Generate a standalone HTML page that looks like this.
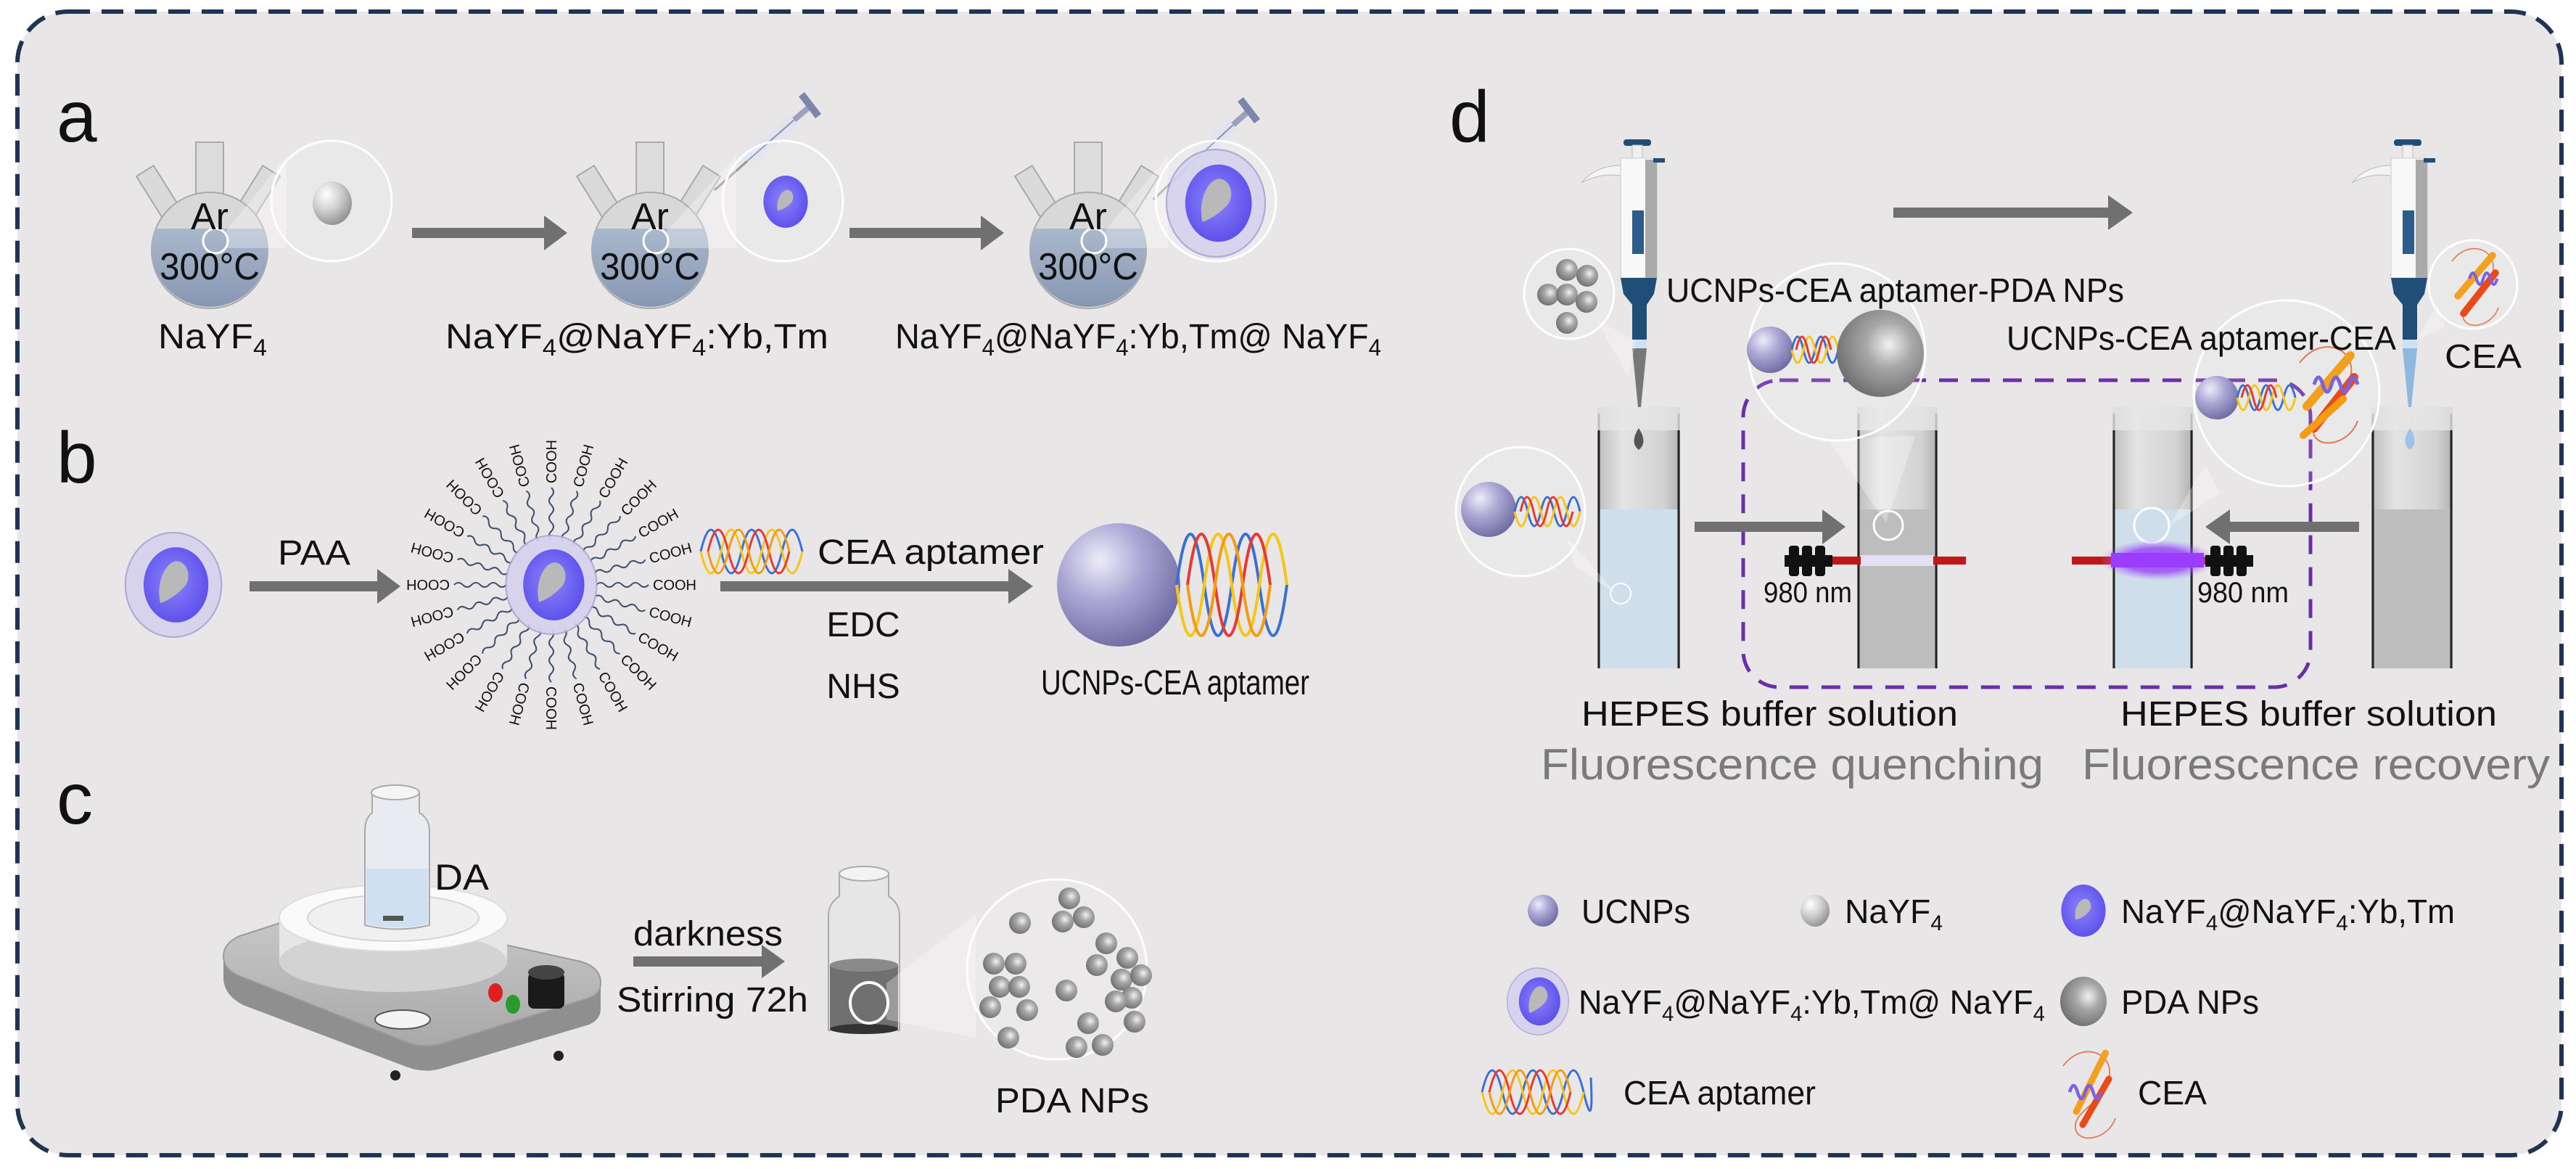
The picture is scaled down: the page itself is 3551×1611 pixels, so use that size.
<!DOCTYPE html>
<html><head><meta charset="utf-8"><style>
html,body{margin:0;padding:0;background:#fff;}
svg{display:block;}
text{font-family:"Liberation Sans",Arial,sans-serif;fill:#111;}
</style></head><body>
<svg width="3551" height="1611" viewBox="0 0 3551 1611" xmlns="http://www.w3.org/2000/svg">
<defs>
<radialGradient id="gPur" cx="35%" cy="30%" r="75%"><stop offset="0" stop-color="#eeecfa"/><stop offset="0.45" stop-color="#aaa6d4"/><stop offset="1" stop-color="#6e6aa0"/></radialGradient>
<radialGradient id="gGry" cx="35%" cy="30%" r="75%"><stop offset="0" stop-color="#ffffff"/><stop offset="0.5" stop-color="#cfcfcf"/><stop offset="1" stop-color="#8e8e8e"/></radialGradient>
<radialGradient id="gPda" cx="60%" cy="40%" r="75%"><stop offset="0" stop-color="#f2f2f2"/><stop offset="0.35" stop-color="#a8a8a8"/><stop offset="1" stop-color="#5e5e5e"/></radialGradient>
<radialGradient id="gBlue" cx="45%" cy="45%" r="60%"><stop offset="0" stop-color="#8c84ff"/><stop offset="1" stop-color="#5a4ee8"/></radialGradient>
<linearGradient id="gLiq" x1="0" y1="0" x2="0" y2="1"><stop offset="0" stop-color="#aab8cc"/><stop offset="1" stop-color="#8797b3"/></linearGradient>
<linearGradient id="gCuv" x1="0" y1="0" x2="1" y2="0"><stop offset="0" stop-color="#bdbdbd"/><stop offset="0.3" stop-color="#e4e4e4"/><stop offset="0.8" stop-color="#d2d2d2"/><stop offset="1" stop-color="#b0b0b0"/></linearGradient>
<linearGradient id="gPlate" x1="0" y1="0" x2="0" y2="1"><stop offset="0" stop-color="#c9c9c9"/><stop offset="1" stop-color="#a9a9a9"/></linearGradient>
<radialGradient id="gGlow" cx="50%" cy="50%" r="50%"><stop offset="0" stop-color="#a64dff"/><stop offset="0.6" stop-color="#9a44f5" stop-opacity="0.8"/><stop offset="1" stop-color="#b070ff" stop-opacity="0"/></radialGradient>
<g id="cs">
  <ellipse cx="0" cy="0" rx="0.92" ry="1" fill="#d6d2ee" stroke="#aaa4d6" stroke-width="0.03" opacity="0.9"/>
  <ellipse cx="0.05" cy="0" rx="0.62" ry="0.72" fill="url(#gBlue)"/>
  <path d="M -0.25 0.35 C -0.35 -0.1 -0.1 -0.5 0.1 -0.45 C 0.3 -0.4 0.35 -0.1 0.2 0.05 C 0.05 0.2 -0.1 0.3 -0.25 0.35 Z" fill="#b9b9b9"/>
</g>
<g id="csb">
  <ellipse cx="0" cy="0" rx="0.85" ry="1" fill="url(#gBlue)"/>
  <path d="M -0.3 0.35 C -0.4 -0.1 -0.1 -0.5 0.1 -0.45 C 0.3 -0.4 0.35 -0.1 0.2 0.05 C 0.05 0.2 -0.1 0.3 -0.3 0.35 Z" fill="#b9b9b9"/>
</g>
</defs>

<rect x="24" y="16" width="3507" height="1576" rx="70" ry="70" fill="#e8e6e6" stroke="#1f3352" stroke-width="6" stroke-dasharray="30 16"/>

<!-- ===== Panel a ===== -->
<text x="78" y="195" font-size="100">a</text>

<g>
 <rect x="223" y="225" width="28" height="70" fill="#dadada" stroke="#a9a9a9" stroke-width="2" transform="rotate(-32 237 295)"/>
 <rect x="323" y="225" width="28" height="70" fill="#dadada" stroke="#a9a9a9" stroke-width="2" transform="rotate(32 337 295)"/>
 <rect x="270" y="196" width="38" height="95" fill="#dcdcdc" stroke="#a9a9a9" stroke-width="2"/>
 <circle cx="289" cy="345" r="80" fill="#d8d8d8" stroke="#a9a9a9" stroke-width="2"/>
 <path d="M 214 315 A 80 80 0 1 0 364 315 Z" fill="url(#gLiq)"/>
 <circle cx="297" cy="332" r="17" fill="none" stroke="#fff" stroke-width="3"/>
 <text x="289" y="316" font-size="52" text-anchor="middle">Ar</text>
 <text x="289" y="385" font-size="52" text-anchor="middle" textLength="138" lengthAdjust="spacingAndGlyphs">300°C</text>
</g>
<g>
 <rect x="830" y="225" width="28" height="70" fill="#dadada" stroke="#a9a9a9" stroke-width="2" transform="rotate(-32 844 295)"/>
 <rect x="930" y="225" width="28" height="70" fill="#dadada" stroke="#a9a9a9" stroke-width="2" transform="rotate(32 944 295)"/>
 <rect x="877" y="196" width="38" height="95" fill="#dcdcdc" stroke="#a9a9a9" stroke-width="2"/>
 <circle cx="896" cy="345" r="80" fill="#d8d8d8" stroke="#a9a9a9" stroke-width="2"/>
 <path d="M 821 315 A 80 80 0 1 0 971 315 Z" fill="url(#gLiq)"/>
 <circle cx="904" cy="332" r="17" fill="none" stroke="#fff" stroke-width="3"/>
 <text x="896" y="316" font-size="52" text-anchor="middle">Ar</text>
 <text x="896" y="385" font-size="52" text-anchor="middle" textLength="138" lengthAdjust="spacingAndGlyphs">300°C</text>
</g>
<g>
 <rect x="1434" y="225" width="28" height="70" fill="#dadada" stroke="#a9a9a9" stroke-width="2" transform="rotate(-32 1448 295)"/>
 <rect x="1534" y="225" width="28" height="70" fill="#dadada" stroke="#a9a9a9" stroke-width="2" transform="rotate(32 1548 295)"/>
 <rect x="1481" y="196" width="38" height="95" fill="#dcdcdc" stroke="#a9a9a9" stroke-width="2"/>
 <circle cx="1500" cy="345" r="80" fill="#d8d8d8" stroke="#a9a9a9" stroke-width="2"/>
 <path d="M 1425 315 A 80 80 0 1 0 1575 315 Z" fill="url(#gLiq)"/>
 <circle cx="1508" cy="332" r="17" fill="none" stroke="#fff" stroke-width="3"/>
 <text x="1500" y="316" font-size="52" text-anchor="middle">Ar</text>
 <text x="1500" y="385" font-size="52" text-anchor="middle" textLength="138" lengthAdjust="spacingAndGlyphs">300°C</text>
</g>

<!-- syringes -->
<g>
 <line x1="985" y1="262" x2="1030" y2="222" stroke="#8a8a8a" stroke-width="3"/>
 <line x1="1030" y1="222" x2="1095" y2="165" stroke="#dfe4ee" stroke-width="18"/>
 <line x1="1030" y1="222" x2="1095" y2="165" stroke="#8a93b3" stroke-width="2"/>
 <line x1="1095" y1="165" x2="1115" y2="148" stroke="#9aa2c0" stroke-width="8"/>
 <line x1="1105" y1="130" x2="1128" y2="160" stroke="#7c86aa" stroke-width="10"/>
</g>
<g>
 <line x1="1590" y1="275" x2="1635" y2="232" stroke="#8a8a8a" stroke-width="3"/>
 <line x1="1635" y1="232" x2="1700" y2="172" stroke="#dfe4ee" stroke-width="18"/>
 <line x1="1635" y1="232" x2="1700" y2="172" stroke="#8a93b3" stroke-width="2"/>
 <line x1="1700" y1="172" x2="1720" y2="154" stroke="#9aa2c0" stroke-width="8"/>
 <line x1="1710" y1="137" x2="1733" y2="167" stroke="#7c86aa" stroke-width="10"/>
</g>

<polygon points="312,318 395,215 395,342 312,342" fill="#fff" opacity="0.3"/>
<circle cx="457" cy="277" r="83" fill="#fff" fill-opacity="0.12" stroke="#fff" stroke-width="3"/>
<ellipse cx="458" cy="280" rx="27" ry="30" fill="url(#gGry)"/>
<polygon points="919,318 1015,215 1015,342 919,342" fill="#fff" opacity="0.3"/>
<circle cx="1079" cy="277" r="83" fill="#fff" fill-opacity="0.12" stroke="#fff" stroke-width="3"/>
<use href="#csb" transform="translate(1083 278) scale(36)"/>
<polygon points="1523,318 1610,215 1610,342 1523,342" fill="#fff" opacity="0.3"/>
<circle cx="1676" cy="277" r="83" fill="#fff" fill-opacity="0.2" stroke="#fff" stroke-width="3"/>
<use href="#cs" transform="translate(1676 280) scale(74)"/>

<g fill="#707070">
 <rect x="568" y="314" width="185" height="14"/><polygon points="750,297 782,321 750,345"/>
 <rect x="1171" y="314" width="185" height="14"/><polygon points="1352,297 1384,321 1352,345"/>
</g>

<text x="218" y="480" font-size="48" textLength="150" lengthAdjust="spacingAndGlyphs">NaYF<tspan font-size="32" dy="10">4</tspan></text>
<text x="614" y="480" font-size="48" textLength="528" lengthAdjust="spacingAndGlyphs">NaYF<tspan font-size="32" dy="10">4</tspan><tspan dy="-10">@NaYF</tspan><tspan font-size="32" dy="10">4</tspan><tspan dy="-10">:Yb,Tm</tspan></text>
<text x="1234" y="480" font-size="48" textLength="670" lengthAdjust="spacingAndGlyphs">NaYF<tspan font-size="32" dy="10">4</tspan><tspan dy="-10">@NaYF</tspan><tspan font-size="32" dy="10">4</tspan><tspan dy="-10">:Yb,Tm@ NaYF</tspan><tspan font-size="32" dy="10">4</tspan></text>

<!-- ===== Panel b ===== -->
<text x="78" y="665" font-size="100">b</text>
<use href="#cs" transform="translate(239 806) scale(72)"/>
<text x="383" y="778" font-size="48" textLength="100" lengthAdjust="spacingAndGlyphs">PAA</text>
<g fill="#707070">
 <rect x="344" y="801" width="180" height="14"/><polygon points="520,784 552,808 520,832"/>
 <rect x="993" y="801" width="400" height="14"/><polygon points="1390,784 1424,808 1390,832"/>
</g>

<g font-family="Liberation Serif,serif" font-size="20" stroke="#3f4f70" stroke-width="2" fill="none">
 <g transform="rotate(0 760 806)"><path d="M 822 806 q 6 -6 12 0 t 12 0 t 12 0 t 12 0 t 12 0 t 12 0"/><text x="900" y="813" stroke="none" fill="#222">COOH</text></g>
 <g transform="rotate(15 760 806)"><path d="M 822 806 q 6 -6 12 0 t 12 0 t 12 0 t 12 0 t 12 0 t 12 0"/><text x="900" y="813" stroke="none" fill="#222">COOH</text></g>
 <g transform="rotate(30 760 806)"><path d="M 822 806 q 6 -6 12 0 t 12 0 t 12 0 t 12 0 t 12 0 t 12 0"/><text x="900" y="813" stroke="none" fill="#222">COOH</text></g>
 <g transform="rotate(45 760 806)"><path d="M 822 806 q 6 -6 12 0 t 12 0 t 12 0 t 12 0 t 12 0 t 12 0"/><text x="900" y="813" stroke="none" fill="#222">COOH</text></g>
 <g transform="rotate(60 760 806)"><path d="M 822 806 q 6 -6 12 0 t 12 0 t 12 0 t 12 0 t 12 0 t 12 0"/><text x="900" y="813" stroke="none" fill="#222">COOH</text></g>
 <g transform="rotate(75 760 806)"><path d="M 822 806 q 6 -6 12 0 t 12 0 t 12 0 t 12 0 t 12 0 t 12 0"/><text x="900" y="813" stroke="none" fill="#222">COOH</text></g>
 <g transform="rotate(90 760 806)"><path d="M 822 806 q 6 -6 12 0 t 12 0 t 12 0 t 12 0 t 12 0 t 12 0"/><text x="900" y="813" stroke="none" fill="#222">COOH</text></g>
 <g transform="rotate(105 760 806)"><path d="M 822 806 q 6 -6 12 0 t 12 0 t 12 0 t 12 0 t 12 0 t 12 0"/><text x="900" y="813" stroke="none" fill="#222">COOH</text></g>
 <g transform="rotate(120 760 806)"><path d="M 822 806 q 6 -6 12 0 t 12 0 t 12 0 t 12 0 t 12 0 t 12 0"/><text x="900" y="813" stroke="none" fill="#222">COOH</text></g>
 <g transform="rotate(135 760 806)"><path d="M 822 806 q 6 -6 12 0 t 12 0 t 12 0 t 12 0 t 12 0 t 12 0"/><text x="900" y="813" stroke="none" fill="#222">COOH</text></g>
 <g transform="rotate(150 760 806)"><path d="M 822 806 q 6 -6 12 0 t 12 0 t 12 0 t 12 0 t 12 0 t 12 0"/><text x="900" y="813" stroke="none" fill="#222">COOH</text></g>
 <g transform="rotate(165 760 806)"><path d="M 822 806 q 6 -6 12 0 t 12 0 t 12 0 t 12 0 t 12 0 t 12 0"/><text x="900" y="813" stroke="none" fill="#222">COOH</text></g>
 <g transform="rotate(180 760 806)"><path d="M 822 806 q 6 -6 12 0 t 12 0 t 12 0 t 12 0 t 12 0 t 12 0"/><text x="900" y="813" stroke="none" fill="#222">COOH</text></g>
 <g transform="rotate(195 760 806)"><path d="M 822 806 q 6 -6 12 0 t 12 0 t 12 0 t 12 0 t 12 0 t 12 0"/><text x="900" y="813" stroke="none" fill="#222">COOH</text></g>
 <g transform="rotate(210 760 806)"><path d="M 822 806 q 6 -6 12 0 t 12 0 t 12 0 t 12 0 t 12 0 t 12 0"/><text x="900" y="813" stroke="none" fill="#222">COOH</text></g>
 <g transform="rotate(225 760 806)"><path d="M 822 806 q 6 -6 12 0 t 12 0 t 12 0 t 12 0 t 12 0 t 12 0"/><text x="900" y="813" stroke="none" fill="#222">COOH</text></g>
 <g transform="rotate(240 760 806)"><path d="M 822 806 q 6 -6 12 0 t 12 0 t 12 0 t 12 0 t 12 0 t 12 0"/><text x="900" y="813" stroke="none" fill="#222">COOH</text></g>
 <g transform="rotate(255 760 806)"><path d="M 822 806 q 6 -6 12 0 t 12 0 t 12 0 t 12 0 t 12 0 t 12 0"/><text x="900" y="813" stroke="none" fill="#222">COOH</text></g>
 <g transform="rotate(270 760 806)"><path d="M 822 806 q 6 -6 12 0 t 12 0 t 12 0 t 12 0 t 12 0 t 12 0"/><text x="900" y="813" stroke="none" fill="#222">COOH</text></g>
 <g transform="rotate(285 760 806)"><path d="M 822 806 q 6 -6 12 0 t 12 0 t 12 0 t 12 0 t 12 0 t 12 0"/><text x="900" y="813" stroke="none" fill="#222">COOH</text></g>
 <g transform="rotate(300 760 806)"><path d="M 822 806 q 6 -6 12 0 t 12 0 t 12 0 t 12 0 t 12 0 t 12 0"/><text x="900" y="813" stroke="none" fill="#222">COOH</text></g>
 <g transform="rotate(315 760 806)"><path d="M 822 806 q 6 -6 12 0 t 12 0 t 12 0 t 12 0 t 12 0 t 12 0"/><text x="900" y="813" stroke="none" fill="#222">COOH</text></g>
 <g transform="rotate(330 760 806)"><path d="M 822 806 q 6 -6 12 0 t 12 0 t 12 0 t 12 0 t 12 0 t 12 0"/><text x="900" y="813" stroke="none" fill="#222">COOH</text></g>
 <g transform="rotate(345 760 806)"><path d="M 822 806 q 6 -6 12 0 t 12 0 t 12 0 t 12 0 t 12 0 t 12 0"/><text x="900" y="813" stroke="none" fill="#222">COOH</text></g>
</g>
<use href="#cs" transform="translate(760 806) scale(68)"/>

<g fill="none" stroke-width="3">
 <path d="M 966 760 q 14 -60 28 0 t 28 0 t 28 0 t 28 0 t 28 0" stroke="#3b6fd1"/>
 <path d="M 966 760 q 14 60 28 0 t 28 0 t 28 0 t 28 0 t 28 0" stroke="#f5c518"/>
 <path d="M 976 760 q 14 -60 28 0 t 28 0 t 28 0 t 28 0" stroke="#e53935"/>
 <path d="M 976 760 q 14 60 28 0 t 28 0 t 28 0 t 28 0" stroke="#f39c12"/>
</g>
<text x="1127" y="777" font-size="48" textLength="312" lengthAdjust="spacingAndGlyphs">CEA aptamer</text>
<text x="1190" y="877" font-size="48" text-anchor="middle">EDC</text>
<text x="1190" y="962" font-size="48" text-anchor="middle">NHS</text>

<circle cx="1542" cy="806" r="85" fill="url(#gPur)"/>
<g fill="none" stroke-width="4">
 <path d="M 1622 806 q 19 -140 38 0 t 38 0 t 38 0 t 38 0" stroke="#3b6fd1"/>
 <path d="M 1622 806 q 19 140 38 0 t 38 0 t 38 0 t 38 0" stroke="#f5c518"/>
 <path d="M 1637 806 q 19 -140 38 0 t 38 0 t 38 0" stroke="#e53935"/>
 <path d="M 1637 806 q 19 140 38 0 t 38 0 t 38 0" stroke="#f39c12"/>
</g>
<text x="1435" y="957" font-size="48" textLength="370" lengthAdjust="spacingAndGlyphs">UCNPs-CEA aptamer</text>

<!-- ===== Panel c ===== -->
<text x="78" y="1135" font-size="100">c</text>
<!-- hot plate -->
<path d="M 308 1318 L 308 1350 Q 310 1372 335 1385 L 560 1470 Q 585 1480 610 1472 L 812 1412 Q 828 1405 828 1390 L 828 1355 Z" fill="#8f8f8f"/>
<path d="M 308 1318 Q 308 1300 330 1290 L 430 1258 Q 455 1250 480 1254 L 800 1325 Q 828 1333 828 1355 Q 828 1370 810 1376 L 610 1438 Q 585 1445 560 1436 L 330 1345 Q 308 1336 308 1318 Z" fill="url(#gPlate)" stroke="#9a9a9a" stroke-width="2"/>
<circle cx="545" cy="1482" r="7" fill="#222"/><circle cx="770" cy="1455" r="7" fill="#222"/>
<rect x="385" y="1265" width="314" height="60" fill="#e6e6e6"/>
<ellipse cx="542" cy="1325" rx="157" ry="42" fill="#d3d3d3"/>
<ellipse cx="542" cy="1265" rx="157" ry="46" fill="#fafafa" stroke="#ddd" stroke-width="2"/>
<ellipse cx="542" cy="1265" rx="118" ry="32" fill="#f0f0f0" stroke="#d6d6d6" stroke-width="2"/>
<rect x="728" y="1340" width="50" height="50" rx="8" fill="#1a1a1a"/>
<ellipse cx="753" cy="1340" rx="25" ry="10" fill="#444"/>
<ellipse cx="683" cy="1368" rx="10" ry="13" fill="#e02020"/>
<ellipse cx="707" cy="1384" rx="10" ry="13" fill="#2a9a2a"/>
<ellipse cx="555" cy="1405" rx="38" ry="13" fill="#f4f4f4" stroke="#555" stroke-width="2"/>
<!-- DA vial -->
<path d="M 513 1092 L 578 1092 L 578 1120 Q 592 1128 592 1145 L 592 1275 Q 548 1286 503 1275 L 503 1145 Q 503 1128 513 1120 Z" fill="#e8ecf0" stroke="#aaa" stroke-width="2"/>
<path d="M 505 1197 L 590 1197 L 590 1273 Q 548 1283 505 1273 Z" fill="#cfe0f0"/>
<ellipse cx="545" cy="1092" rx="33" ry="10" fill="#f5f5f5" stroke="#aaa" stroke-width="2"/>
<rect x="528" y="1262" width="28" height="7" fill="#555"/>
<text x="599" y="1226" font-size="50" textLength="75" lengthAdjust="spacingAndGlyphs">DA</text>
<rect x="873" y="1318" width="180" height="14" fill="#707070"/><polygon points="1050,1302 1082,1325 1050,1348" fill="#707070"/>
<text x="873" y="1303" font-size="48" textLength="206" lengthAdjust="spacingAndGlyphs">darkness</text>
<text x="850" y="1394" font-size="48" textLength="264" lengthAdjust="spacingAndGlyphs">Stirring 72h</text>
<!-- small vial -->
<path d="M 1157 1204 L 1225 1204 L 1225 1235 Q 1240 1245 1240 1262 L 1240 1420 L 1142 1420 L 1142 1262 Q 1142 1245 1157 1235 Z" fill="#e6e6e6" stroke="#aaa" stroke-width="2"/>
<rect x="1144" y="1330" width="94" height="89" fill="#707070"/>
<ellipse cx="1191" cy="1330" rx="47" ry="9" fill="#8a8a8a"/>
<ellipse cx="1191" cy="1418" rx="47" ry="7" fill="#333"/>
<ellipse cx="1191" cy="1204" rx="34" ry="10" fill="#f3f3f3" stroke="#aaa" stroke-width="2"/>
<ellipse cx="1198" cy="1382" rx="26" ry="28" fill="none" stroke="#fff" stroke-width="4"/>
<polygon points="1222,1355 1345,1260 1345,1430 1222,1405" fill="#fff" opacity="0.3"/>
<circle cx="1457" cy="1336" r="124" fill="#fff" fill-opacity="0.15" stroke="#fff" stroke-width="3"/>
<g fill="url(#gPda)">
 <circle cx="1474" cy="1238" r="15"/><circle cx="1465" cy="1270" r="15"/><circle cx="1494" cy="1264" r="15"/><circle cx="1406" cy="1272" r="15"/>
 <circle cx="1370" cy="1328" r="15"/><circle cx="1400" cy="1328" r="15"/><circle cx="1378" cy="1360" r="15"/><circle cx="1405" cy="1360" r="15"/><circle cx="1416" cy="1392" r="15"/>
 <circle cx="1365" cy="1388" r="15"/><circle cx="1390" cy="1430" r="15"/><circle cx="1470" cy="1365" r="15"/>
 <circle cx="1525" cy="1300" r="15"/><circle cx="1554" cy="1320" r="15"/><circle cx="1512" cy="1330" r="15"/><circle cx="1546" cy="1350" r="15"/><circle cx="1573" cy="1344" r="15"/>
 <circle cx="1560" cy="1375" r="15"/><circle cx="1538" cy="1380" r="15"/><circle cx="1564" cy="1408" r="15"/><circle cx="1500" cy="1410" r="15"/><circle cx="1484" cy="1443" r="15"/><circle cx="1520" cy="1440" r="15"/>
</g>
<text x="1372" y="1533" font-size="48" textLength="212" lengthAdjust="spacingAndGlyphs">PDA NPs</text>

<!-- ===== Panel d ===== -->
<text x="1998" y="195" font-size="100">d</text>
<rect x="2610" y="286" width="300" height="14" fill="#707070"/><polygon points="2906,269 2940,293 2906,317" fill="#707070"/>

<rect x="2403" y="524" width="782" height="423" rx="50" fill="none" stroke="#6a2fa6" stroke-width="5" stroke-dasharray="26 18"/>

<g>
 <rect x="2202" y="561" width="114" height="360" fill="url(#gCuv)"/>
 <rect x="2204" y="702" width="110" height="219" fill="#cfdeeb"/>
 <line x1="2204" y1="570" x2="2204" y2="921" stroke="#222" stroke-width="3"/><line x1="2314" y1="570" x2="2314" y2="921" stroke="#222" stroke-width="3"/>
 <rect x="2202" y="561" width="114" height="32" fill="#e6e6e6" opacity="0.8"/>
 <rect x="2560" y="561" width="111" height="360" fill="url(#gCuv)"/>
 <rect x="2562" y="702" width="107" height="219" fill="#bdbdbd"/>
 <line x1="2562" y1="570" x2="2562" y2="921" stroke="#222" stroke-width="3"/><line x1="2669" y1="570" x2="2669" y2="921" stroke="#222" stroke-width="3"/>
 <rect x="2560" y="561" width="111" height="32" fill="#e6e6e6" opacity="0.8"/>
 <rect x="2912" y="561" width="111" height="360" fill="url(#gCuv)"/>
 <rect x="2914" y="702" width="107" height="219" fill="#cfdeeb"/>
 <line x1="2914" y1="570" x2="2914" y2="921" stroke="#222" stroke-width="3"/><line x1="3021" y1="570" x2="3021" y2="921" stroke="#222" stroke-width="3"/>
 <rect x="2912" y="561" width="111" height="32" fill="#e6e6e6" opacity="0.8"/>
 <rect x="3269" y="561" width="112" height="360" fill="url(#gCuv)"/>
 <rect x="3271" y="702" width="108" height="219" fill="#bdbdbd"/>
 <line x1="3271" y1="570" x2="3271" y2="921" stroke="#222" stroke-width="3"/><line x1="3379" y1="570" x2="3379" y2="921" stroke="#222" stroke-width="3"/>
 <rect x="3269" y="561" width="112" height="32" fill="#e6e6e6" opacity="0.8"/>
</g>
<path d="M 2259 590 Q 2272 610 2259 620 Q 2246 610 2259 590 Z" fill="#555"/>
<path d="M 3322 590 Q 3335 610 3322 620 Q 3309 610 3322 590 Z" fill="#9cc4e8"/>
<circle cx="2603" cy="724" r="20" fill="none" stroke="#fff" stroke-width="3"/>
<circle cx="2966" cy="724" r="24" fill="none" stroke="#fff" stroke-width="3"/>
<circle cx="2234" cy="818" r="14" fill="none" stroke="#fff" stroke-width="2"/>

<g>
 <rect x="2238" y="192" width="38" height="9" rx="4" fill="#1f4e79"/>
 <rect x="2250" y="200" width="14" height="20" fill="#f0f0f0" stroke="#bbb"/>
 <path d="M 2234 228 Q 2200 228 2180 252 Q 2205 238 2234 242 Z" fill="#f4f4f4" stroke="#bbb"/>
 <rect x="2234" y="218" width="50" height="165" fill="#f8f8f8" stroke="#ccc"/>
 <rect x="2268" y="220" width="16" height="163" fill="#aaa"/>
 <rect x="2279" y="218" width="16" height="6" fill="#1f4e79"/>
 <rect x="2250" y="290" width="16" height="60" fill="#2e5c8a"/>
 <path d="M 2234 383 L 2284 383 L 2280 405 L 2270 420 L 2270 468 L 2250 468 L 2250 420 L 2238 405 Z" fill="#1f4e79"/>
 <rect x="2250" y="468" width="20" height="12" fill="#cfe0ef"/>
 <polygon points="2250,480 2270,480 2262,561 2258,561" fill="#777"/>
</g>
<g>
 <rect x="3300" y="192" width="38" height="9" rx="4" fill="#1f4e79"/>
 <rect x="3312" y="200" width="14" height="20" fill="#f0f0f0" stroke="#bbb"/>
 <path d="M 3296 228 Q 3262 228 3242 252 Q 3267 238 3296 242 Z" fill="#f4f4f4" stroke="#bbb"/>
 <rect x="3296" y="218" width="50" height="165" fill="#f8f8f8" stroke="#ccc"/>
 <rect x="3330" y="220" width="16" height="163" fill="#aaa"/>
 <rect x="3341" y="218" width="16" height="6" fill="#1f4e79"/>
 <rect x="3312" y="290" width="16" height="60" fill="#2e5c8a"/>
 <path d="M 3296 383 L 3346 383 L 3342 405 L 3332 420 L 3332 468 L 3312 468 L 3312 420 L 3300 405 Z" fill="#1f4e79"/>
 <rect x="3312" y="468" width="20" height="12" fill="#cfe0ef"/>
 <polygon points="3312,480 3332,480 3324,561 3320,561" fill="#8fb8de"/>
</g>

<polygon points="2200,440 2245,520 2255,470" fill="#fff" opacity="0.3"/>
<circle cx="2163" cy="405" r="62" fill="#fff" fill-opacity="0.12" stroke="#fff" stroke-width="3"/>
<g fill="url(#gPda)">
 <circle cx="2160" cy="372" r="15"/><circle cx="2188" cy="380" r="15"/><circle cx="2134" cy="406" r="15"/><circle cx="2160" cy="406" r="15"/><circle cx="2187" cy="416" r="15"/><circle cx="2160" cy="445" r="15"/>
</g>

<polygon points="2160,740 2230,820 2170,780" fill="#fff" opacity="0.3"/>
<circle cx="2096" cy="705" r="89" fill="#fff" fill-opacity="0.12" stroke="#fff" stroke-width="3"/>
<circle cx="2052" cy="702" r="38" fill="url(#gPur)"/>
<g fill="none" stroke-width="3">
 <path d="M 2088 705 q 9 -40 18 0 t 18 0 t 18 0 t 18 0 t 18 0" stroke="#3b6fd1"/>
 <path d="M 2088 705 q 9 40 18 0 t 18 0 t 18 0 t 18 0 t 18 0" stroke="#f5c518"/>
 <path d="M 2096 705 q 9 -40 18 0 t 18 0 t 18 0 t 18 0" stroke="#e53935"/>
</g>

<polygon points="2520,606 2600,720 2640,600" fill="#fff" opacity="0.3"/>
<circle cx="2532" cy="485" r="122" fill="#fff" fill-opacity="0.12" stroke="#fff" stroke-width="3"/>
<circle cx="2440" cy="482" r="32" fill="url(#gPur)"/>
<g fill="none" stroke-width="3">
 <path d="M 2470 482 q 8 -36 16 0 t 16 0 t 16 0 t 16 0" stroke="#3b6fd1"/>
 <path d="M 2470 482 q 8 36 16 0 t 16 0 t 16 0 t 16 0" stroke="#f5c518"/>
 <path d="M 2476 482 q 8 -36 16 0 t 16 0 t 16 0" stroke="#e53935"/>
</g>
<circle cx="2592" cy="487" r="60" fill="url(#gPda)"/>

<polygon points="3040,640 2990,725 3060,680" fill="#fff" opacity="0.3"/>
<circle cx="3152" cy="542" r="128" fill="#fff" fill-opacity="0.12" stroke="#fff" stroke-width="3"/>
<circle cx="3056" cy="548" r="30" fill="url(#gPur)"/>
<g fill="none" stroke-width="3">
 <path d="M 3084 548 q 8 -34 16 0 t 16 0 t 16 0 t 16 0 t 16 0" stroke="#3b6fd1"/>
 <path d="M 3084 548 q 8 34 16 0 t 16 0 t 16 0 t 16 0 t 16 0" stroke="#f5c518"/>
 <path d="M 3090 548 q 8 -34 16 0 t 16 0 t 16 0" stroke="#e53935"/>
</g>
<g transform="translate(3210 540)">
 <path d="M -40 -40 C -10 -80 40 -60 30 -20 C 20 20 -30 30 -20 60 C -10 80 30 70 40 40" fill="none" stroke="#e07a50" stroke-width="2"/>
 <path d="M -30 20 L 30 -50" stroke="#f2a020" stroke-width="12" stroke-linecap="round"/>
 <path d="M -20 50 L 35 -20" stroke="#e84a1a" stroke-width="12" stroke-linecap="round"/>
 <path d="M -35 60 L 20 10" stroke="#f39c12" stroke-width="10" stroke-linecap="round"/>
 <path d="M -20 -10 q 6 -20 12 0 t 12 0 t 12 0 t 12 0 t 12 0" fill="none" stroke="#7a62e0" stroke-width="5"/>
</g>

<polygon points="3330,470 3360,420 3370,450" fill="#fff" opacity="0.3"/>
<circle cx="3409" cy="392" r="61" fill="#fff" fill-opacity="0.12" stroke="#fff" stroke-width="3"/>
<g transform="translate(3412 392) scale(0.8)">
 <path d="M -40 -40 C -10 -80 40 -60 30 -20 C 20 20 -30 30 -20 60 C -10 80 30 70 40 40" fill="none" stroke="#e07a50" stroke-width="2"/>
 <path d="M -30 20 L 30 -50" stroke="#f2a020" stroke-width="12" stroke-linecap="round"/>
 <path d="M -20 50 L 35 -20" stroke="#e84a1a" stroke-width="12" stroke-linecap="round"/>
 <path d="M -10 -10 q 6 -20 12 0 t 12 0 t 12 0 t 12 0" fill="none" stroke="#7a62e0" stroke-width="5"/>
</g>

<rect x="2336" y="719" width="180" height="14" fill="#707070"/><polygon points="2512,702 2544,726 2512,750" fill="#707070"/>
<rect x="3072" y="719" width="180" height="14" fill="#707070"/><polygon points="3074,702 3040,726 3074,750" fill="#707070"/>

<rect x="2520" y="767" width="190" height="11" fill="#c01818"/>
<rect x="2565" y="765" width="100" height="15" fill="#e6def5"/>
<g fill="#111"><rect x="2466" y="752" width="14" height="42" rx="4"/><rect x="2484" y="752" width="14" height="42" rx="4"/><rect x="2502" y="752" width="14" height="42" rx="4"/><rect x="2460" y="765" width="66" height="16"/></g>
<rect x="2856" y="767" width="190" height="11" fill="#c01818"/>
<ellipse cx="2975" cy="772" rx="80" ry="28" fill="url(#gGlow)"/>
<rect x="2910" y="762" width="128" height="20" fill="#9b3cff"/>
<g fill="#111"><rect x="3047" y="752" width="14" height="42" rx="4"/><rect x="3065" y="752" width="14" height="42" rx="4"/><rect x="3083" y="752" width="14" height="42" rx="4"/><rect x="3040" y="765" width="66" height="16"/></g>
<text x="2431" y="830" font-size="40" textLength="122" lengthAdjust="spacingAndGlyphs">980 nm</text>
<text x="3029" y="830" font-size="40" textLength="126" lengthAdjust="spacingAndGlyphs">980 nm</text>

<text x="2297" y="416" font-size="46" textLength="631" lengthAdjust="spacingAndGlyphs">UCNPs-CEA aptamer-PDA NPs</text>
<text x="2766" y="482" font-size="46" textLength="537" lengthAdjust="spacingAndGlyphs">UCNPs-CEA aptamer-CEA</text>
<text x="3370" y="507" font-size="46" textLength="106" lengthAdjust="spacingAndGlyphs">CEA</text>
<text x="2180" y="1000" font-size="48" textLength="519" lengthAdjust="spacingAndGlyphs">HEPES buffer solution</text>
<text x="2923" y="1000" font-size="48" textLength="519" lengthAdjust="spacingAndGlyphs">HEPES buffer solution</text>
<text x="2124" y="1074" font-size="60" style="fill:#7a7a7a" textLength="693" lengthAdjust="spacingAndGlyphs">Fluorescence quenching</text>
<text x="2870" y="1074" font-size="60" style="fill:#7a7a7a" textLength="645" lengthAdjust="spacingAndGlyphs">Fluorescence recovery</text>

<ellipse cx="2127" cy="1255" rx="21" ry="22" fill="url(#gPur)"/>
<text x="2180" y="1272" font-size="46" textLength="150" lengthAdjust="spacingAndGlyphs">UCNPs</text>
<ellipse cx="2502" cy="1255" rx="20" ry="22" fill="url(#gGry)"/>
<text x="2543" y="1272" font-size="46" textLength="135" lengthAdjust="spacingAndGlyphs">NaYF<tspan font-size="30" dy="10">4</tspan></text>
<use href="#csb" transform="translate(2872 1255) scale(36)"/>
<text x="2924" y="1272" font-size="46" textLength="460" lengthAdjust="spacingAndGlyphs">NaYF<tspan font-size="30" dy="10">4</tspan><tspan dy="-10">@NaYF</tspan><tspan font-size="30" dy="10">4</tspan><tspan dy="-10">:Yb,Tm</tspan></text>
<use href="#cs" transform="translate(2120 1380) scale(46)"/>
<text x="2176" y="1397" font-size="46" textLength="643" lengthAdjust="spacingAndGlyphs">NaYF<tspan font-size="30" dy="10">4</tspan><tspan dy="-10">@NaYF</tspan><tspan font-size="30" dy="10">4</tspan><tspan dy="-10">:Yb,Tm@ NaYF</tspan><tspan font-size="30" dy="10">4</tspan></text>
<ellipse cx="2872" cy="1380" rx="32" ry="34" fill="url(#gPda)"/>
<text x="2924" y="1397" font-size="46" textLength="190" lengthAdjust="spacingAndGlyphs">PDA NPs</text>
<g fill="none" stroke-width="3">
 <path d="M 2043 1505 q 14 -60 28 0 t 28 0 t 28 0 t 28 0 t 28 0 t 10 -20" stroke="#3b6fd1"/>
 <path d="M 2043 1505 q 14 60 28 0 t 28 0 t 28 0 t 28 0 t 28 0" stroke="#f5c518"/>
 <path d="M 2053 1505 q 14 -60 28 0 t 28 0 t 28 0 t 28 0" stroke="#e53935"/>
 <path d="M 2053 1505 q 14 60 28 0 t 28 0 t 28 0 t 28 0" stroke="#f39c12"/>
</g>
<text x="2238" y="1522" font-size="46" textLength="265" lengthAdjust="spacingAndGlyphs">CEA aptamer</text>
<g transform="translate(2880 1505) scale(0.9)">
 <path d="M -40 -40 C -10 -80 40 -60 30 -20 C 20 20 -30 30 -20 60 C -10 80 30 70 40 40" fill="none" stroke="#e07a50" stroke-width="2"/>
 <path d="M -20 30 L 25 -60" stroke="#f2a020" stroke-width="10" stroke-linecap="round"/>
 <path d="M -10 50 L 30 -20" stroke="#e84a1a" stroke-width="10" stroke-linecap="round"/>
 <path d="M -30 0 q 6 -20 12 0 t 12 0 t 12 0 t 12 0" fill="none" stroke="#7a62e0" stroke-width="5"/>
</g>
<text x="2947" y="1522" font-size="46" textLength="95" lengthAdjust="spacingAndGlyphs">CEA</text>
</svg>
</body></html>
